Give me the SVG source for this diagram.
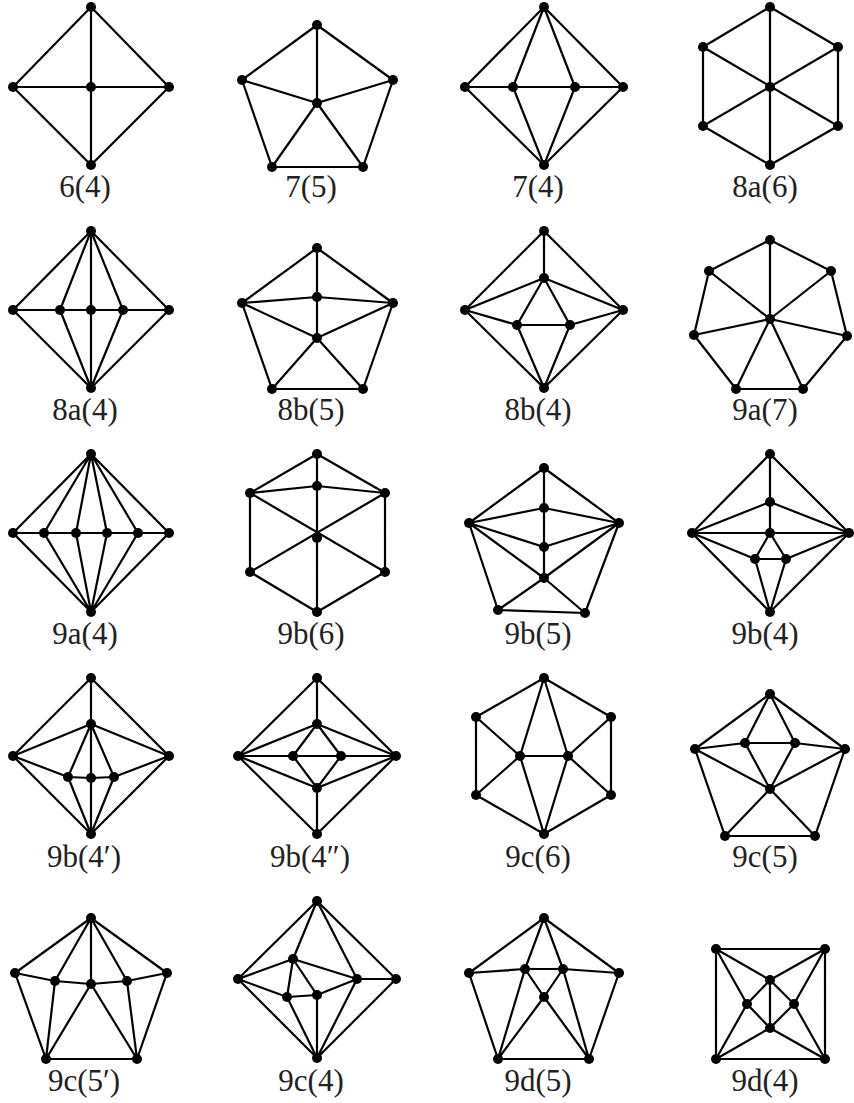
<svg xmlns="http://www.w3.org/2000/svg" width="854" height="1103" viewBox="0 0 854 1103">
<style>
.e{fill:none;stroke:#000;stroke-width:2.2;stroke-linejoin:round;stroke-linecap:round}
.n circle{fill:#000}
.lb{font-family:"Liberation Serif","DejaVu Serif",serif;font-size:31px;fill:#222;text-anchor:middle}
</style>
<rect width="854" height="1103" fill="#fff"/>

<g id="g-6-4">
<g class="connectors"><path class="e" d="M91 7L169 87L91 165L13 87Z M91 7V165 M13 87H169"/></g>
<g class="n"><circle id="g1-t" cx="91" cy="7" r="5"/><circle id="g1-l" cx="13" cy="87" r="5"/><circle id="g1-c" cx="91" cy="87" r="5"/><circle id="g1-r" cx="169" cy="87" r="5"/><circle id="g1-b" cx="91" cy="165" r="5"/></g>
<text class="lb" x="85" y="197">6(4)</text>
</g>

<g id="g-7-5">
<g class="connectors"><path class="e" d="M317 25L393 80L363 167L272 167L242 80Z M317 25V103 M242 80L317 103L393 80 M272 167L317 103L363 167"/></g>
<g class="n"><circle id="g2-t" cx="317" cy="25" r="5"/><circle id="g2-l" cx="242" cy="80" r="5"/><circle id="g2-r" cx="393" cy="80" r="5"/><circle id="g2-c" cx="317" cy="103" r="5"/><circle id="g2-bl" cx="272" cy="167" r="5"/><circle id="g2-br" cx="363" cy="167" r="5"/></g>
<text class="lb" x="311" y="197">7(5)</text>
</g>

<g id="g-7-4">
<g class="connectors"><path class="e" d="M544 7L623 87L544 165L465 87Z M465 87H623 M544 7L513 87L544 165L575 87Z"/></g>
<g class="n"><circle id="g3-t" cx="544" cy="7" r="5"/><circle id="g3-l" cx="465" cy="87" r="5"/><circle id="g3-il" cx="513" cy="87" r="5"/><circle id="g3-ir" cx="575" cy="87" r="5"/><circle id="g3-r" cx="623" cy="87" r="5"/><circle id="g3-b" cx="544" cy="165" r="5"/></g>
<text class="lb" x="538" y="197">7(4)</text>
</g>

<g id="g-8a-6">
<g class="connectors"><path class="e" d="M770 7L838 47L838 126L770 165L703 126L703 47Z M770 7V165 M703 47L838 126 M838 47L703 126"/></g>
<g class="n"><circle id="g4-t" cx="770" cy="7" r="5"/><circle id="g4-ul" cx="703" cy="47" r="5"/><circle id="g4-ur" cx="838" cy="47" r="5"/><circle id="g4-c" cx="770" cy="87" r="5"/><circle id="g4-ll" cx="703" cy="126" r="5"/><circle id="g4-lr" cx="838" cy="126" r="5"/><circle id="g4-b" cx="770" cy="165" r="5"/></g>
<text class="lb" x="765" y="197">8a(6)</text>
</g>

<g id="g-8a-4">
<g class="connectors"><path class="e" d="M91 231L169 310L91 388L13 310Z M13 310H169 M91 231V388 M91 231L60 310L91 388 M91 231L123 310L91 388"/></g>
<g class="n"><circle id="g5-t" cx="91" cy="231" r="5"/><circle id="g5-l" cx="13" cy="310" r="5"/><circle id="g5-il" cx="60" cy="310" r="5"/><circle id="g5-c" cx="91" cy="310" r="5"/><circle id="g5-ir" cx="123" cy="310" r="5"/><circle id="g5-r" cx="169" cy="310" r="5"/><circle id="g5-b" cx="91" cy="388" r="5"/></g>
<text class="lb" x="85" y="420">8a(4)</text>
</g>

<g id="g-8b-5">
<g class="connectors"><path class="e" d="M317 248L393 303L363 389L272 389L242 303Z M317 248V338 M242 303L317 297L393 303 M242 303L317 338L393 303 M272 389L317 338L363 389"/></g>
<g class="n"><circle id="g6-t" cx="317" cy="248" r="5"/><circle id="g6-m" cx="317" cy="297" r="5"/><circle id="g6-l" cx="242" cy="303" r="5"/><circle id="g6-r" cx="393" cy="303" r="5"/><circle id="g6-c" cx="317" cy="338" r="5"/><circle id="g6-bl" cx="272" cy="389" r="5"/><circle id="g6-br" cx="363" cy="389" r="5"/></g>
<text class="lb" x="311" y="420">8b(5)</text>
</g>

<g id="g-8b-4">
<g class="connectors"><path class="e" d="M544 231L623 310L544 388L465 310Z M544 231V278 M465 310L544 278L623 310 M465 310L517 325L570 325L623 310 M517 325L544 278L570 325 M517 325L544 388L570 325"/></g>
<g class="n"><circle id="g7-t" cx="544" cy="231" r="5"/><circle id="g7-m" cx="544" cy="278" r="5"/><circle id="g7-l" cx="465" cy="310" r="5"/><circle id="g7-r" cx="623" cy="310" r="5"/><circle id="g7-il" cx="517" cy="325" r="5"/><circle id="g7-ir" cx="570" cy="325" r="5"/><circle id="g7-b" cx="544" cy="388" r="5"/></g>
<text class="lb" x="538" y="420">8b(4)</text>
</g>

<g id="g-9a-7">
<g class="connectors"><path class="e" d="M770 240L831 271L847 336L803 389L736 389L694 335L709 271Z M770 240V319 M709 271L770 319L831 271 M694 335L770 319L847 336 M736 389L770 319L803 389"/></g>
<g class="n"><circle id="g8-t" cx="770" cy="240" r="5"/><circle id="g8-ul" cx="709" cy="271" r="5"/><circle id="g8-ur" cx="831" cy="271" r="5"/><circle id="g8-c" cx="770" cy="319" r="5"/><circle id="g8-l" cx="694" cy="335" r="5"/><circle id="g8-r" cx="847" cy="336" r="5"/><circle id="g8-bl" cx="736" cy="389" r="5"/><circle id="g8-br" cx="803" cy="389" r="5"/></g>
<text class="lb" x="765" y="420">9a(7)</text>
</g>

<g id="g-9a-4">
<g class="connectors"><path class="e" d="M91 454L169 533L91 612L13 533Z M13 533H169 M91 454L44 533L91 612 M91 454L76 533L91 612 M91 454L107 533L91 612 M91 454L138 533L91 612"/></g>
<g class="n"><circle id="g9-t" cx="91" cy="454" r="5"/><circle id="g9-a" cx="13" cy="533" r="5"/><circle id="g9-b" cx="44" cy="533" r="5"/><circle id="g9-c" cx="76" cy="533" r="5"/><circle id="g9-d" cx="107" cy="533" r="5"/><circle id="g9-e" cx="138" cy="533" r="5"/><circle id="g9-f" cx="169" cy="533" r="5"/><circle id="g9-bt" cx="91" cy="612" r="5"/></g>
<text class="lb" x="85" y="644">9a(4)</text>
</g>

<g id="g-9b-6">
<g class="connectors"><path class="e" d="M317 454L385 493L385 572L317 612L250 572L250 493Z M317 454V612 M250 493L317 486L385 493 M250 493L385 572 M385 493L250 572"/></g>
<g class="n"><circle id="g10-t" cx="317" cy="454" r="5"/><circle id="g10-m" cx="317" cy="486" r="5"/><circle id="g10-ul" cx="250" cy="493" r="5"/><circle id="g10-ur" cx="385" cy="493" r="5"/><circle id="g10-c" cx="317" cy="538" r="5"/><circle id="g10-ll" cx="250" cy="572" r="5"/><circle id="g10-lr" cx="385" cy="572" r="5"/><circle id="g10-b" cx="317" cy="612" r="5"/></g>
<text class="lb" x="311" y="644">9b(6)</text>
</g>

<g id="g-9b-5">
<g class="connectors"><path class="e" d="M544 468L619 523L585 613L498 610L469 523Z M544 468V578 M469 523L544 508L619 523 M469 523L544 547L619 523 M469 523L544 578L619 523 M498 610L544 578L585 613"/></g>
<g class="n"><circle id="g11-t" cx="544" cy="468" r="5"/><circle id="g11-m1" cx="544" cy="508" r="5"/><circle id="g11-l" cx="469" cy="523" r="5"/><circle id="g11-r" cx="619" cy="523" r="5"/><circle id="g11-m2" cx="544" cy="547" r="5"/><circle id="g11-m3" cx="544" cy="578" r="5"/><circle id="g11-bl" cx="498" cy="610" r="5"/><circle id="g11-br" cx="585" cy="613" r="5"/></g>
<text class="lb" x="538" y="644">9b(5)</text>
</g>

<g id="g-9b-4">
<g class="connectors"><path class="e" d="M770 454L849 533L770 612L692 533Z M770 454V533 M692 533H849 M692 533L770 502L849 533 M692 533L755 559L786 559L849 533 M755 559L770 533L786 559 M755 559L770 612L786 559"/></g>
<g class="n"><circle id="g12-t" cx="770" cy="454" r="5"/><circle id="g12-m1" cx="770" cy="502" r="5"/><circle id="g12-l" cx="692" cy="533" r="5"/><circle id="g12-m2" cx="770" cy="533" r="5"/><circle id="g12-r" cx="849" cy="533" r="5"/><circle id="g12-il" cx="755" cy="559" r="5"/><circle id="g12-ir" cx="786" cy="559" r="5"/><circle id="g12-b" cx="770" cy="612" r="5"/></g>
<text class="lb" x="765" y="644">9b(4)</text>
</g>

<g id="g-9b-4p">
<g class="connectors"><path class="e" d="M91 678L169 756L91 834L13 756Z M91 678V834 M13 756L91 724L169 756 M13 756L68 777L91 778L114 777L169 756 M68 777L91 724L114 777 M68 777L91 834L114 777"/></g>
<g class="n"><circle id="g13-t" cx="91" cy="678" r="5"/><circle id="g13-m" cx="91" cy="724" r="5"/><circle id="g13-l" cx="13" cy="756" r="5"/><circle id="g13-r" cx="169" cy="756" r="5"/><circle id="g13-il" cx="68" cy="777" r="5"/><circle id="g13-c" cx="91" cy="778" r="5"/><circle id="g13-ir" cx="114" cy="777" r="5"/><circle id="g13-b" cx="91" cy="834" r="5"/></g>
<text class="lb" x="84" y="867">9b(4′)</text>
</g>

<g id="g-9b-4pp">
<g class="connectors"><path class="e" d="M317 678L396 756L317 834L238 756Z M317 678V724 M317 788V834 M238 756H396 M238 756L317 724L396 756 M238 756L317 788L396 756 M293 756L317 724L341 756L317 788Z"/></g>
<g class="n"><circle id="g14-t" cx="317" cy="678" r="5"/><circle id="g14-m1" cx="317" cy="724" r="5"/><circle id="g14-l" cx="238" cy="756" r="5"/><circle id="g14-il" cx="293" cy="756" r="5"/><circle id="g14-ir" cx="341" cy="756" r="5"/><circle id="g14-r" cx="396" cy="756" r="5"/><circle id="g14-m2" cx="317" cy="788" r="5"/><circle id="g14-b" cx="317" cy="834" r="5"/></g>
<text class="lb" x="310" y="867">9b(4″)</text>
</g>

<g id="g-9c-6">
<g class="connectors"><path class="e" d="M544 678L611 717L611 795L544 834L476 795L476 717Z M544 678L520 756L544 834L568 756Z M520 756H568 M476 717L520 756L476 795 M611 717L568 756L611 795"/></g>
<g class="n"><circle id="g15-t" cx="544" cy="678" r="5"/><circle id="g15-ul" cx="476" cy="717" r="5"/><circle id="g15-ur" cx="611" cy="717" r="5"/><circle id="g15-il" cx="520" cy="756" r="5"/><circle id="g15-ir" cx="568" cy="756" r="5"/><circle id="g15-ll" cx="476" cy="795" r="5"/><circle id="g15-lr" cx="611" cy="795" r="5"/><circle id="g15-b" cx="544" cy="834" r="5"/></g>
<text class="lb" x="538" y="867">9c(6)</text>
</g>

<g id="g-9c-5">
<g class="connectors"><path class="e" d="M770 694L845 749L815 836L725 836L695 749Z M695 749L745 743L795 743L845 749 M770 694L745 743L770 789L795 743Z M695 749L770 789L845 749 M725 836L770 789L815 836"/></g>
<g class="n"><circle id="g16-t" cx="770" cy="694" r="5"/><circle id="g16-il" cx="745" cy="743" r="5"/><circle id="g16-ir" cx="795" cy="743" r="5"/><circle id="g16-l" cx="695" cy="749" r="5"/><circle id="g16-r" cx="845" cy="749" r="5"/><circle id="g16-c" cx="770" cy="789" r="5"/><circle id="g16-bl" cx="725" cy="836" r="5"/><circle id="g16-br" cx="815" cy="836" r="5"/></g>
<text class="lb" x="765" y="867">9c(5)</text>
</g>

<g id="g-9c-5p">
<g class="connectors"><path class="e" d="M91 918L167 973L137 1059L46 1059L15 973Z M15 973L55 981L91 984L127 981L167 973 M91 918L55 981L46 1059 M91 918V984 M91 918L127 981L137 1059 M46 1059L91 984L137 1059"/></g>
<g class="n"><circle id="g17-t" cx="91" cy="918" r="5"/><circle id="g17-l" cx="15" cy="973" r="5"/><circle id="g17-il" cx="55" cy="981" r="5"/><circle id="g17-c" cx="91" cy="984" r="5"/><circle id="g17-ir" cx="127" cy="981" r="5"/><circle id="g17-r" cx="167" cy="973" r="5"/><circle id="g17-bl" cx="46" cy="1059" r="5"/><circle id="g17-br" cx="137" cy="1059" r="5"/></g>
<text class="lb" x="84" y="1091">9c(5′)</text>
</g>

<g id="g-9c-4">
<g class="connectors"><path class="e" d="M317 901L396 979L317 1058L238 979Z M317 901L293 959 M317 901L357 979L396 979 M238 979L293 959L357 979 M293 959L287 997L317 995L357 979 M293 959L317 995 M238 979L287 997L317 1058L357 979 M317 995V1058"/></g>
<g class="n"><circle id="g18-t" cx="317" cy="901" r="5"/><circle id="g18-a" cx="293" cy="959" r="5"/><circle id="g18-l" cx="238" cy="979" r="5"/><circle id="g18-b" cx="357" cy="979" r="5"/><circle id="g18-r" cx="396" cy="979" r="5"/><circle id="g18-c" cx="287" cy="997" r="5"/><circle id="g18-d" cx="317" cy="995" r="5"/><circle id="g18-bt" cx="317" cy="1058" r="5"/></g>
<text class="lb" x="311" y="1091">9c(4)</text>
</g>

<g id="g-9d-5">
<g class="connectors"><path class="e" d="M544 918L619 973L589 1059L498 1059L469 973Z M469 973L525 969L563 969L619 973 M544 918L525 969L498 1059 M544 918L563 969L589 1059 M525 969L544 997L563 969 M498 1059L544 997L589 1059"/></g>
<g class="n"><circle id="g19-t" cx="544" cy="918" r="5"/><circle id="g19-l" cx="469" cy="973" r="5"/><circle id="g19-il" cx="525" cy="969" r="5"/><circle id="g19-ir" cx="563" cy="969" r="5"/><circle id="g19-r" cx="619" cy="973" r="5"/><circle id="g19-c" cx="544" cy="997" r="5"/><circle id="g19-bl" cx="498" cy="1059" r="5"/><circle id="g19-br" cx="589" cy="1059" r="5"/></g>
<text class="lb" x="538" y="1091">9d(5)</text>
</g>

<g id="g-9d-4">
<g class="connectors"><path class="e" d="M716 949H825V1059H716Z M716 949L770 980L825 949 M716 949L747 1004L716 1059 M825 949L794 1004L825 1059 M770 980L747 1004L770 1028L794 1004Z M770 980V1028 M716 1059L770 1028L825 1059"/></g>
<g class="n"><circle id="g20-ul" cx="716" cy="949" r="5"/><circle id="g20-ur" cx="825" cy="949" r="5"/><circle id="g20-t" cx="770" cy="980" r="5"/><circle id="g20-lc" cx="747" cy="1004" r="5"/><circle id="g20-rc" cx="794" cy="1004" r="5"/><circle id="g20-b" cx="770" cy="1028" r="5"/><circle id="g20-ll" cx="716" cy="1059" r="5"/><circle id="g20-lr" cx="825" cy="1059" r="5"/></g>
<text class="lb" x="765" y="1091">9d(4)</text>
</g>
</svg>
